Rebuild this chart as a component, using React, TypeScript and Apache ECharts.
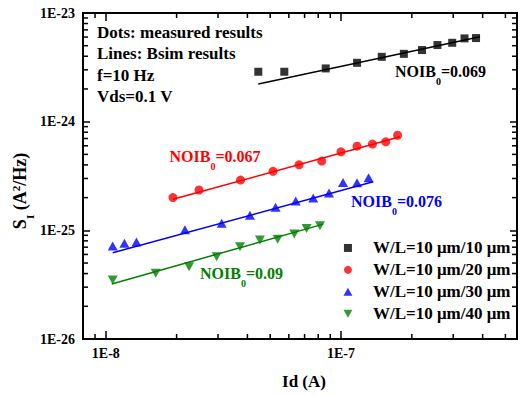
import React, { useEffect, useRef } from 'react';
import * as echarts from 'echarts';

const FONT = "'Liberation Serif', 'Times New Roman', serif";

const seriesNames = ['W/L=10 μm/10 μm', 'W/L=10 μm/20 μm', 'W/L=10 μm/30 μm', 'W/L=10 μm/40 μm'];
const colors = ['#000000', '#ff0000', '#0000ff', '#008000'];

// measured (dots): Id in A, S_I in A^2/Hz
const id10 = [4.45e-8, 5.74e-8, 8.61e-8, 1.17e-7, 1.49e-7, 1.85e-7, 2.21e-7, 2.57e-7, 2.97e-7, 3.35e-7, 3.75e-7];
const s10 = [2.88e-24, 2.88e-24, 3.09e-24, 3.48e-24, 3.95e-24, 4.21e-24, 4.56e-24, 5.07e-24, 5.32e-24, 5.84e-24, 5.88e-24];

const id20 = [1.93e-8, 2.49e-8, 3.74e-8, 5.14e-8, 6.63e-8, 8.28e-8, 1.0e-7, 1.17e-7, 1.36e-7, 1.55e-7, 1.74e-7];
const s20 = [2.0e-25, 2.35e-25, 2.9e-25, 3.49e-25, 4.01e-25, 4.34e-25, 5.28e-25, 5.95e-25, 6.22e-25, 6.53e-25, 7.5e-25];

const id30 = [1.07e-8, 1.2e-8, 1.35e-8, 2.17e-8, 3.11e-8, 4.1e-8, 5.27e-8, 6.42e-8, 7.62e-8, 8.89e-8, 1.02e-7, 1.17e-7, 1.31e-7];
const s30 = [7.17e-26, 7.59e-26, 7.8e-26, 1.01e-25, 1.16e-25, 1.38e-25, 1.63e-25, 1.86e-25, 1.98e-25, 2.2e-25, 2.76e-25, 2.74e-25, 3.05e-25];

const id40 = [1.07e-8, 1.63e-8, 2.26e-8, 2.96e-8, 3.72e-8, 4.52e-8, 5.38e-8, 6.33e-8, 7.14e-8, 8.14e-8];
const s40 = [3.49e-26, 4.02e-26, 4.63e-26, 5.71e-26, 7.06e-26, 8.14e-26, 8.26e-26, 9.25e-26, 1.04e-25, 1.1e-25];

// Bsim results (lines)
const fitId10 = [4.45e-8, 3.9e-7];
const fitS10 = [2.22e-24, 6.04e-24];
const fitId20 = [1.93e-8, 1.78e-7];
const fitS20 = [1.93e-25, 7.26e-25];
const fitId30 = [1.07e-8, 1.37e-7];
const fitS30 = [6.22e-26, 2.8e-25];
const fitId40 = [1.06e-8, 8.41e-8];
const fitS40 = [3.21e-26, 1.14e-25];

const noibLabels = ['0.069', '0.067', '0.076', '0.09'];

const xTickLabels = ['1E-8', '1E-7'];
const yTickLabels = ['1E-26', '1E-25', '1E-24', '1E-23'];
const xRange = [8e-9, 5.6e-7];
const yRange = [1e-26, 1e-23];

const notes = ['Dots: measured results', 'Lines: Bsim results', 'f=10 Hz', 'Vds=0.1 V'];

// plotting units (the log axis cannot hold values this small directly)
const X_EXP = -9; // values plotted in nA
const Y_EXP = -26; // values plotted in 1E-26 A^2/Hz
const xu = (v: number) => v / Math.pow(10, X_EXP);
const yu = (v: number) => v / Math.pow(10, Y_EXP);

function minorTicks(lo: number, hi: number): number[] {
  const out: number[] = [];
  for (let e = Math.floor(Math.log10(lo)); e <= Math.ceil(Math.log10(hi)); e++) {
    for (let k = 2; k <= 9; k++) {
      const v = k * Math.pow(10, e);
      if (v > lo * 1.0001 && v < hi * 0.9999) out.push(v);
    }
  }
  return out;
}

function labelFor(list: string[], exp: number) {
  return (v: number) => {
    const e = Math.log10(v);
    const r = Math.round(e);
    if (Math.abs(e - r) > 1e-6) return '';
    return list.find((l) => l === '1E' + (r + exp)) || '';
  };
}

const pair = (xs: number[], ys: number[]) => xs.map((x, i) => [xu(x), yu(ys[i])]);

export default function App() {
  const ref = useRef<HTMLDivElement>(null);
  useEffect(() => {
    if (!ref.current) return;
    const chart = echarts.init(ref.current, undefined, { renderer: 'svg' });
    const axisLine = () => ({ show: true, onZero: false, lineStyle: { color: '#000', width: 2 } });
    const tickStyle = () => ({ color: '#000', width: 1.5 });
    const labelStyle = () => ({ color: '#000', fontFamily: FONT, fontWeight: 'bold' as const, fontSize: 14 });

    const xMin = xu(xRange[0]);
    const xMax = xu(xRange[1]);
    const yMin = yu(yRange[0]);
    const yMax = yu(yRange[1]);
    const xMinor = minorTicks(xMin, xMax);
    const yMinor = minorTicks(yMin, yMax);

    const rich = (color: string) => ({
      b: { fontSize: 16, fontWeight: 'bold', fontFamily: FONT, fill: color },
      s: { fontSize: 10, fontWeight: 'bold', fontFamily: FONT, fill: color, padding: [20, 0, 0, 0], verticalAlign: 'top' },
    });
    const noibPos = [
      [395, 71.7],
      [169.5, 156.7],
      [351, 201.7],
      [200, 273.3],
    ];

    const graphics: any[] = [];
    notes.forEach((t, i) => {
      graphics.push({
        type: 'text',
        x: 97,
        y: 32.3 + i * 21.5,
        style: { text: t, fontFamily: FONT, fontWeight: 'bold', fontSize: 17, fill: '#000', textAlign: 'left', textVerticalAlign: 'middle' },
        z: 10,
      });
    });
    noibLabels.forEach((t, i) => {
      graphics.push({
        type: 'text',
        x: noibPos[i][0],
        y: noibPos[i][1],
        style: { text: `{b|NOIB}{s|0}{b|=${t}}`, rich: rich(colors[i]), textAlign: 'left', textVerticalAlign: 'middle' },
        z: 10,
      });
    });
    graphics.push({
      type: 'text',
      x: 304,
      y: 381.5,
      style: { text: 'Id (A)', fontFamily: FONT, fontWeight: 'bold', fontSize: 17, fill: '#000', textAlign: 'center', textVerticalAlign: 'middle' },
    });
    graphics.push({
      type: 'text',
      x: 20,
      y: 191,
      rotation: Math.PI / 2,
      style: {
        text: '{b|S}{s|I}{b| (A}{p|2}{b|/Hz)}',
        textAlign: 'center',
        textVerticalAlign: 'middle',
        rich: {
          b: { fontSize: 18, fontWeight: 'bold', fontFamily: FONT, fill: '#000' },
          s: { fontSize: 11, fontWeight: 'bold', fontFamily: FONT, fill: '#000', padding: [19, 0, 0, 0], verticalAlign: 'top' },
          p: { fontSize: 11, fontWeight: 'bold', fontFamily: FONT, fill: '#000', padding: [5, 0, 0, 0], verticalAlign: 'top' },
        },
      },
    });

    const scatterSymbols = ['rect', 'circle', 'triangle', 'path://M0,0L10,0L5,9Z'];
    const legendIcons = ['path://M0,0L10,0L10,10L0,10Z', 'circle', 'path://M5,0L10,9L0,9Z', 'path://M0,0L10,0L5,9Z'];
    const scatterSizes: any[] = [8, 9, [10, 9], [10, 9]];
    const dataSets = [pair(id10, s10), pair(id20, s20), pair(id30, s30), pair(id40, s40)];
    const fitSets = [pair(fitId10, fitS10), pair(fitId20, fitS20), pair(fitId30, fitS30), pair(fitId40, fitS40)];

    const series: any[] = [];
    fitSets.forEach((d, i) => {
      series.push({
        type: 'line',
        name: 'fit' + i,
        data: d,
        symbol: 'none',
        lineStyle: { color: colors[i], width: 1.5 },
        silent: true,
        z: 2,
      });
    });
    dataSets.forEach((d, i) => {
      series.push({
        type: 'scatter',
        name: seriesNames[i],
        data: d,
        symbol: scatterSymbols[i],
        symbolSize: scatterSizes[i],
        itemStyle: { color: colors[i] },
        z: 3,
      });
    });
    series.push({
      type: 'custom',
      name: 'xminor',
      data: xMinor.map((v) => [v, 10]),
      silent: true,
      renderItem: (params: any, api: any) => {
        const cs = params.coordSys;
        const px = api.coord([api.value(0), api.value(1)])[0];
        return {
          type: 'group',
          children: [
            { type: 'line', shape: { x1: px, y1: cs.y + cs.height, x2: px, y2: cs.y + cs.height - 5 }, style: { stroke: '#000', lineWidth: 1.5 } },
            { type: 'line', shape: { x1: px, y1: cs.y, x2: px, y2: cs.y + 5 }, style: { stroke: '#000', lineWidth: 1.5 } },
          ],
        };
      },
    });
    series.push({
      type: 'custom',
      name: 'yminor',
      data: yMinor.map((v) => [10, v]),
      silent: true,
      renderItem: (params: any, api: any) => {
        const cs = params.coordSys;
        const py = api.coord([api.value(0), api.value(1)])[1];
        return {
          type: 'group',
          children: [
            { type: 'line', shape: { x1: cs.x, y1: py, x2: cs.x + 5, y2: py }, style: { stroke: '#000', lineWidth: 1.5 } },
            { type: 'line', shape: { x1: cs.x + cs.width, y1: py, x2: cs.x + cs.width - 5, y2: py }, style: { stroke: '#000', lineWidth: 1.5 } },
          ],
        };
      },
    });

    chart.setOption({
      animation: false,
      backgroundColor: '#ffffff',
      grid: { left: 83, right: 4, top: 13, bottom: 56, containLabel: false },
      legend: {
        data: seriesNames.map((n, i) => ({ name: n, icon: legendIcons[i] })),
        orient: 'vertical',
        left: 343.5,
        top: 237,
        padding: 0,
        itemWidth: 40,
        itemHeight: 8,
        itemGap: 0,
        selectedMode: false,
        textStyle: { fontFamily: FONT, fontWeight: 'bold', fontSize: 17, color: '#000', lineHeight: 21.9 },
      },
      xAxis: [
        {
          type: 'log',
          logBase: 10,
          min: xMin,
          max: xMax,
          position: 'bottom',
          axisLine: axisLine(),
          axisTick: { show: true, inside: true, length: 8, lineStyle: tickStyle() },
          axisLabel: { ...labelStyle(), margin: 7, formatter: labelFor(xTickLabels, X_EXP) },
          splitLine: { show: false },
        },
        {
          type: 'log',
          logBase: 10,
          min: xMin,
          max: xMax,
          position: 'top',
          axisLine: axisLine(),
          axisTick: { show: true, inside: true, length: 8, lineStyle: tickStyle() },
          axisLabel: { show: false },
          splitLine: { show: false },
        },
      ],
      yAxis: [
        {
          type: 'log',
          logBase: 10,
          min: yMin,
          max: yMax,
          position: 'left',
          axisLine: axisLine(),
          axisTick: { show: true, inside: true, length: 7, lineStyle: tickStyle() },
          axisLabel: { ...labelStyle(), margin: 8, formatter: labelFor(yTickLabels, Y_EXP) },
          splitLine: { show: false },
        },
        {
          type: 'log',
          logBase: 10,
          min: yMin,
          max: yMax,
          position: 'right',
          axisLine: axisLine(),
          axisTick: { show: true, inside: true, length: 7, lineStyle: tickStyle() },
          axisLabel: { show: false },
          splitLine: { show: false },
        },
      ],
      graphic: graphics,
      series,
    });
    return () => chart.dispose();
  }, []);
  return <div ref={ref} style={{ position: 'fixed', left: 0, top: 0, width: 521, height: 395, background: '#fff' }} />;
}
